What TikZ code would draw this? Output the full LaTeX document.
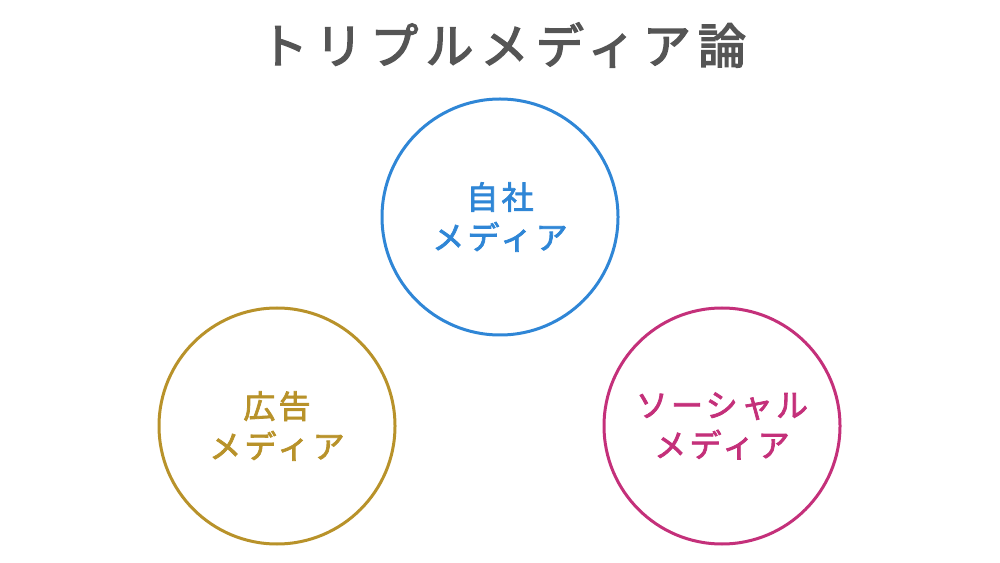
\documentclass[tikz,border=0pt]{standalone}
\usepackage{fontspec}
\newfontfamily\jptitle[LetterSpace=15,FakeBold=3]{Noto Sans CJK JP}
\newfontfamily\jpmedia[LetterSpace=10,FakeBold=2.4]{Noto Sans CJK JP}
\usetikzlibrary{positioning}
\definecolor{titlegray}{HTML}{555555}
\definecolor{ownblue}{HTML}{2F86D6}
\definecolor{adgold}{HTML}{B8922A}
\definecolor{socialpink}{HTML}{C4307A}

\begin{document}
\begin{tikzpicture}[x=1pt,y=1pt,
        media/.style={circle,draw,line width=3pt,minimum size=236pt,inner sep=0pt,
            align=center,font=\jpmedia\fontsize{32}{40}\selectfont}]
            % fix the page
            \useasboundingbox (0,0) rectangle (1000,562);

            % the title
            \node[text=titlegray,font=\jptitle\fontsize{48}{48}\selectfont] (title) at (503,517) {トリプルメディア論};

            % draw the three circles
            \node[media,draw=ownblue,text=ownblue] (owned) at (500,345) {自社\\メディア};
            \node[media,draw=adgold,text=adgold] (paid) at (277,136) {広告\\メディア};
            \node[media,draw=socialpink,text=socialpink] (social) at (722,136) {ソーシャル\\メディア};
        \end{tikzpicture}
\end{document}
